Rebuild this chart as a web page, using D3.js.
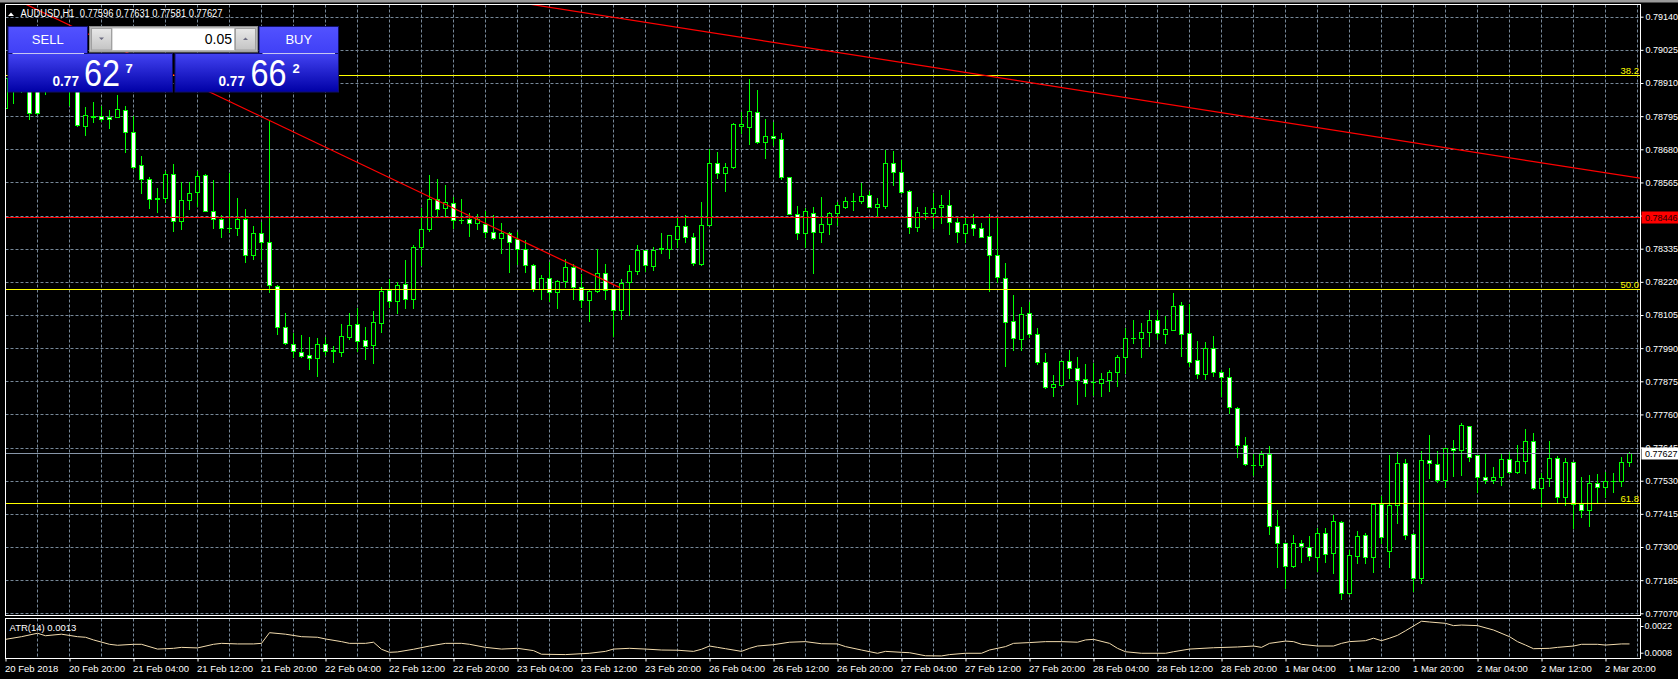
<!DOCTYPE html>
<html><head><meta charset="utf-8">
<script src="https://cdn.jsdelivr.net/npm/d3@7"></script>
<style>
html,body{margin:0;padding:0;background:#000;overflow:hidden}
svg{display:block}
text{font-family:"Liberation Sans",Arial,sans-serif}
</style>
</head><body><svg id="chart" width="1678" height="679"></svg>
<script>
// ---------------- DATA (AUDUSD H1, bar 0 = 20 Feb 2018 12:00) ----------------
const symbolTitle = "AUDUSD,H1";
const lastQuote = [0.77596, 0.77631, 0.77581, 0.77627];
const opens = [
0.78823,0.78927,0.78886,0.78955,0.78893,0.78906,0.78893,0.78941,0.78920,0.78906,
0.78762,0.78793,0.78795,0.78793,0.78793,0.78816,0.78740,0.78624,0.78576,0.78506,
0.78510,0.78593,0.78430,0.78503,0.78531,0.78590,0.78467,0.78437,0.78406,0.78406,
0.78437,0.78313,0.78388,0.78357,0.78207,0.78065,0.78003,0.77978,0.77965,0.77955,
0.78003,0.77979,0.77978,0.78030,0.78074,0.78018,0.78002,0.78078,0.78192,0.78155,
0.78211,0.78161,0.78342,0.78404,0.78506,0.78477,0.78495,0.78436,0.78437,0.78423,
0.78421,0.78392,0.78371,0.78388,0.78368,0.78333,0.78277,0.78196,0.78232,0.78184,
0.78224,0.78270,0.78201,0.78156,0.78187,0.78250,0.78194,0.78121,0.78219,0.78259,
0.78331,0.78274,0.78335,0.78333,0.78368,0.78413,0.78375,0.78281,0.78418,0.78633,
0.78599,0.78617,0.78760,0.78758,0.78808,0.78704,0.78725,0.78715,0.78583,0.78456,
0.78388,0.78460,0.78394,0.78420,0.78458,0.78481,0.78499,0.78499,0.78520,0.78481,
0.78484,0.78631,0.78600,0.78534,0.78409,0.78458,0.78458,0.78479,0.78486,0.78429,
0.78388,0.78420,0.78406,0.78378,0.78312,0.78232,0.78085,0.78021,0.78111,0.78038,
0.77943,0.77856,0.77863,0.77944,0.77922,0.77884,0.77871,0.77870,0.77880,0.77906,
0.77958,0.78025,0.78026,0.78045,0.78087,0.78038,0.78054,0.78139,0.78041,0.77948,
0.77899,0.77989,0.77906,0.77889,0.77781,0.77653,0.77585,0.77585,0.77622,0.77374,
0.77313,0.77234,0.77315,0.77301,0.77264,0.77347,0.77278,0.77388,0.77139,0.77270,
0.77340,0.77264,0.77448,0.77287,0.77445,0.77590,0.77346,0.77191,0.77601,0.77587,
0.77533,0.77642,0.77636,0.77719,0.77618,0.77542,0.77532,0.77544,0.77604,0.77561,
0.77597,0.77667,0.77504,0.77538,0.77608,0.77472,0.77594,0.77449,0.77428,0.77523,
0.77507,0.77528,0.77529,0.77596];
const highs = [
0.78955,0.78948,0.78976,0.78983,0.78920,0.78941,0.78955,0.78969,0.78948,0.78920,
0.78828,0.78845,0.78830,0.78816,0.78868,0.78830,0.78795,0.78657,0.78583,0.78545,
0.78605,0.78629,0.78565,0.78565,0.78605,0.78594,0.78573,0.78452,0.78599,0.78510,
0.78473,0.78415,0.78427,0.78782,0.78209,0.78111,0.78041,0.78036,0.78028,0.78025,
0.78030,0.77997,0.78074,0.78113,0.78128,0.78062,0.78119,0.78201,0.78229,0.78220,
0.78296,0.78348,0.78475,0.78591,0.78577,0.78556,0.78515,0.78506,0.78458,0.78455,
0.78467,0.78452,0.78424,0.78392,0.78392,0.78365,0.78282,0.78244,0.78289,0.78226,
0.78299,0.78281,0.78246,0.78192,0.78333,0.78282,0.78195,0.78229,0.78278,0.78347,
0.78332,0.78340,0.78388,0.78382,0.78446,0.78452,0.78388,0.78496,0.78680,0.78671,
0.78631,0.78770,0.78810,0.78924,0.78886,0.78784,0.78775,0.78735,0.78584,0.78483,
0.78475,0.78479,0.78514,0.78463,0.78498,0.78515,0.78527,0.78562,0.78535,0.78510,
0.78677,0.78674,0.78643,0.78539,0.78481,0.78479,0.78527,0.78521,0.78539,0.78440,
0.78440,0.78455,0.78423,0.78455,0.78443,0.78286,0.78174,0.78132,0.78149,0.78059,
0.77972,0.77897,0.77945,0.77983,0.77958,0.77935,0.77937,0.77903,0.77914,0.77966,
0.78059,0.78088,0.78076,0.78122,0.78122,0.78102,0.78180,0.78150,0.78143,0.78015,
0.78010,0.78032,0.77914,0.77920,0.77787,0.77682,0.77622,0.77634,0.77650,0.77428,
0.77314,0.77342,0.77324,0.77338,0.77365,0.77365,0.77411,0.77389,0.77290,0.77356,
0.77349,0.77449,0.77477,0.77619,0.77631,0.77604,0.77347,0.77633,0.77688,0.77633,
0.77643,0.77671,0.77730,0.77720,0.77619,0.77622,0.77576,0.77627,0.77628,0.77654,
0.77709,0.77695,0.77556,0.77668,0.77616,0.77608,0.77595,0.77544,0.77550,0.77553,
0.77559,0.77558,0.77613,0.77631];
const lows = [
0.78806,0.78842,0.78880,0.78784,0.78804,0.78872,0.78882,0.78893,0.78834,0.78762,
0.78730,0.78776,0.78778,0.78753,0.78791,0.78672,0.78614,0.78527,0.78477,0.78463,
0.78498,0.78397,0.78402,0.78474,0.78483,0.78466,0.78406,0.78375,0.78394,0.78382,
0.78288,0.78299,0.78298,0.78186,0.78039,0.78006,0.77960,0.77958,0.77918,0.77893,
0.77966,0.77943,0.77963,0.78022,0.77981,0.77952,0.77939,0.78047,0.78134,0.78111,
0.78128,0.78128,0.78278,0.78397,0.78448,0.78446,0.78406,0.78423,0.78380,0.78402,
0.78377,0.78369,0.78321,0.78255,0.78281,0.78255,0.78189,0.78161,0.78155,0.78129,
0.78203,0.78161,0.78134,0.78085,0.78184,0.78160,0.78031,0.78092,0.78104,0.78248,
0.78258,0.78261,0.78319,0.78303,0.78342,0.78357,0.78279,0.78280,0.78417,0.78581,
0.78535,0.78616,0.78737,0.78698,0.78703,0.78651,0.78695,0.78576,0.78454,0.78369,
0.78342,0.78250,0.78359,0.78387,0.78417,0.78475,0.78469,0.78495,0.78480,0.78446,
0.78477,0.78556,0.78527,0.78388,0.78397,0.78437,0.78406,0.78425,0.78385,0.78357,
0.78359,0.78382,0.78374,0.78189,0.78220,0.77928,0.77983,0.77983,0.78030,0.77935,
0.77853,0.77824,0.77862,0.77885,0.77797,0.77824,0.77827,0.77824,0.77842,0.77860,
0.77905,0.78009,0.77960,0.77997,0.78022,0.78009,0.78053,0.77964,0.77928,0.77885,
0.77883,0.77894,0.77824,0.77766,0.77613,0.77586,0.77550,0.77579,0.77345,0.77229,
0.77157,0.77229,0.77249,0.77255,0.77218,0.77249,0.77211,0.77118,0.77138,0.77243,
0.77245,0.77214,0.77315,0.77232,0.77382,0.77327,0.77148,0.77176,0.77540,0.77526,
0.77509,0.77547,0.77550,0.77598,0.77490,0.77523,0.77523,0.77515,0.77556,0.77556,
0.77556,0.77503,0.77443,0.77512,0.77457,0.77446,0.77365,0.77405,0.77374,0.77451,
0.77472,0.77492,0.77513,0.77581];
const closes = [
0.78927,0.78886,0.78962,0.78805,0.78805,0.78893,0.78941,0.78920,0.78906,0.78763,
0.78799,0.78794,0.78784,0.78784,0.78819,0.78739,0.78620,0.78576,0.78506,0.78511,
0.78593,0.78430,0.78503,0.78527,0.78586,0.78467,0.78437,0.78406,0.78407,0.78437,
0.78313,0.78388,0.78359,0.78208,0.78064,0.78007,0.77979,0.77964,0.77955,0.78003,
0.77981,0.77983,0.78031,0.78069,0.78016,0.77998,0.78081,0.78187,0.78155,0.78209,
0.78159,0.78340,0.78402,0.78506,0.78474,0.78498,0.78434,0.78435,0.78423,0.78437,
0.78394,0.78371,0.78390,0.78359,0.78335,0.78277,0.78196,0.78232,0.78184,0.78222,
0.78270,0.78201,0.78156,0.78188,0.78250,0.78191,0.78121,0.78217,0.78259,0.78329,
0.78277,0.78331,0.78336,0.78381,0.78413,0.78375,0.78284,0.78418,0.78631,0.78599,
0.78620,0.78767,0.78767,0.78812,0.78704,0.78725,0.78718,0.78585,0.78456,0.78388,
0.78465,0.78394,0.78420,0.78458,0.78486,0.78499,0.78500,0.78517,0.78481,0.78489,
0.78631,0.78600,0.78533,0.78409,0.78461,0.78459,0.78475,0.78486,0.78427,0.78392,
0.78420,0.78406,0.78375,0.78312,0.78236,0.78082,0.78024,0.78107,0.78038,0.77943,
0.77856,0.77864,0.77944,0.77922,0.77879,0.77870,0.77872,0.77882,0.77906,0.77958,
0.78024,0.78026,0.78045,0.78087,0.78041,0.78055,0.78135,0.78038,0.77943,0.77899,
0.77989,0.77906,0.77889,0.77785,0.77653,0.77587,0.77586,0.77623,0.77374,0.77313,
0.77234,0.77315,0.77303,0.77269,0.77347,0.77275,0.77390,0.77139,0.77272,0.77338,
0.77264,0.77448,0.77336,0.77445,0.77590,0.77343,0.77191,0.77601,0.77590,0.77531,
0.77642,0.77635,0.77722,0.77613,0.77544,0.77532,0.77544,0.77604,0.77559,0.77597,
0.77667,0.77504,0.77538,0.77608,0.77472,0.77594,0.77448,0.77428,0.77523,0.77507,
0.77528,0.77529,0.77596,0.77627];

const priceTicks = [0.79140,0.79025,0.78910,0.78795,0.78680,0.78565,0.78450,0.78335,0.78220,0.78105,
  0.77990,0.77875,0.77760,0.77645,0.77530,0.77415,0.77300,0.77185,0.77070];
const timeTickBars = [0,8,16,24,32,40,48,56,64,72,80,88,96,104,112,120,128,136,144,152,160,168,176,184,192,200];
const timeTickLabels = ["20 Feb 2018","20 Feb 20:00","21 Feb 04:00","21 Feb 12:00","21 Feb 20:00","22 Feb 04:00",
  "22 Feb 12:00","22 Feb 20:00","23 Feb 04:00","23 Feb 12:00","23 Feb 20:00","26 Feb 04:00","26 Feb 12:00",
  "26 Feb 20:00","27 Feb 04:00","27 Feb 12:00","27 Feb 20:00","28 Feb 04:00","28 Feb 12:00","28 Feb 20:00",
  "1 Mar 04:00","1 Mar 12:00","1 Mar 20:00","2 Mar 04:00","2 Mar 12:00","2 Mar 20:00"];

const fibNames = ["38.2","50.0","61.8"];
const fibPrices = [0.78937, 0.78195, 0.77452];
const levelPrice = 0.78446;
const bidPrice = 0.77627;
const trendA_bars = [64, 204], trendA_prices = [0.79190, 0.78581];
const trendB_bars = [3, 76.8], trendB_prices = [0.79177, 0.78200];

const atrName = "ATR(14) 0.0013";
const atrTicks = [0.0022, 0.0008];
const atrBars = [0,2,4,5,7,9,10,11,13,14,16,17,19,21,22,24,26,27,29,31,32,33,35,37,39,40,42,43,45,46,47,48,49,51,53,55,57,58,60,62,64,66,67,70,73,75,76,78,80,82,84,86,87,88,89,90,92,93,94,96,98,100,102,104,105,107,109,110,112,113,115,117,118,120,122,123,125,126,128,130,132,134,135,136,138,139,140,142,145,146,148,151,154,156,157,158,160,161,162,164,166,167,168,170,171,172,173,174,175,177,178,180,181,182,184,186,188,189,190,191,193,194,196,197,199,200,202,203];
const atrValues = [0.00150,0.00164,0.00182,0.00169,0.00177,0.00164,0.00161,0.00147,0.00124,0.00119,0.00124,0.00124,0.00099,0.00103,0.00108,0.00105,0.00124,0.00129,0.00126,0.00126,0.00129,0.00185,0.00177,0.00164,0.00161,0.00152,0.00138,0.00129,0.00129,0.00135,0.00098,0.00082,0.00084,0.00098,0.00115,0.00129,0.00129,0.00124,0.00108,0.00099,0.00103,0.00091,0.00072,0.00070,0.00077,0.00087,0.00099,0.00103,0.00099,0.00094,0.00093,0.00087,0.00098,0.00115,0.00108,0.00101,0.00087,0.00103,0.00115,0.00122,0.00135,0.00138,0.00127,0.00126,0.00112,0.00094,0.00077,0.00087,0.00082,0.00080,0.00064,0.00063,0.00070,0.00077,0.00077,0.00094,0.00112,0.00129,0.00133,0.00138,0.00138,0.00135,0.00147,0.00150,0.00129,0.00103,0.00085,0.00077,0.00077,0.00085,0.00099,0.00106,0.00110,0.00115,0.00108,0.00129,0.00141,0.00138,0.00124,0.00115,0.00115,0.00129,0.00138,0.00143,0.00156,0.00143,0.00156,0.00171,0.00195,0.00245,0.00241,0.00234,0.00222,0.00225,0.00222,0.00199,0.00164,0.00138,0.00120,0.00101,0.00103,0.00108,0.00115,0.00124,0.00124,0.00120,0.00126,0.00126];

const lotSize = "0.05";
const sellParts = ["0.77","62","7"];
const buyParts = ["0.77","66","2"];

// ---------------- LAYOUT ----------------
const svg = d3.select("#chart");
const L = 5.5, R = 1640.5, T = 4.5, B = 615.5, aT = 618.5, aB = 658.5;
const FONT = 9.5, AXFONT = 9;
const GRID = "#778899", GREEN = "#00ff00";

const x = d3.scaleLinear().domain([0, opens.length - 1]).range([5.5, 5.5 + 8 * (opens.length - 1)]);
const y = d3.scaleLinear().domain([0.79140, 0.77070]).range([16.7, 613.3]);
const ya = d3.scaleLinear().domain([0.0022, 0.0008]).range([626, 652.7]);
const cy = v => Math.round(y(v)) + 0.5;

svg.append("rect").attr("width", 1678).attr("height", 679).attr("fill", "#000");
svg.append("rect").attr("width", 1678).attr("height", 2.5).attr("fill", "#9a9a9a");

const defs = svg.append("defs");
defs.append("clipPath").attr("id", "mainclip").append("rect")
  .attr("x", L + 0.5).attr("y", T + 0.5).attr("width", R - L - 1).attr("height", B - T - 1);
defs.append("clipPath").attr("id", "atrclip").append("rect")
  .attr("x", L + 0.5).attr("y", aT + 0.5).attr("width", R - L - 1).attr("height", aB - aT - 1);
const grad = defs.append("linearGradient").attr("id", "pbox").attr("x1", 0).attr("y1", 0).attr("x2", 0).attr("y2", 1);
grad.append("stop").attr("offset", "0%").attr("stop-color", "#4343f2");
grad.append("stop").attr("offset", "100%").attr("stop-color", "#0000a6");
const grad2 = defs.append("linearGradient").attr("id", "btn").attr("x1", 0).attr("y1", 0).attr("x2", 0).attr("y2", 1);
grad2.append("stop").attr("offset", "0%").attr("stop-color", "#5252ff");
grad2.append("stop").attr("offset", "100%").attr("stop-color", "#4040f6");
const grad3 = defs.append("linearGradient").attr("id", "gbtn").attr("x1", 0).attr("y1", 0).attr("x2", 0).attr("y2", 1);
grad3.append("stop").attr("offset", "0%").attr("stop-color", "#e8e8e8");
grad3.append("stop").attr("offset", "100%").attr("stop-color", "#c4c4c4");

// ---------------- GRID ----------------
const gridG = svg.append("g").attr("stroke", GRID).attr("stroke-width", 1).attr("stroke-dasharray", "3,2");
const vBars = d3.range(0, opens.length + 1, 4);
gridG.selectAll("line.vg").data(vBars).join("line")
  .attr("x1", d => x(d)).attr("x2", d => x(d)).attr("y1", T).attr("y2", B);
gridG.selectAll("line.vga").data(vBars).join("line")
  .attr("x1", d => x(d)).attr("x2", d => x(d)).attr("y1", aT).attr("y2", aB);
gridG.selectAll("line.hg").data(priceTicks).join("line")
  .attr("x1", L).attr("x2", R).attr("y1", d => cy(d)).attr("y2", d => cy(d));

// ---------------- CANDLES ----------------
const bars = d3.range(opens.length).map(i => ({ i, o: opens[i], h: highs[i], l: lows[i], c: closes[i] }));
const cg = svg.append("g").attr("clip-path", "url(#mainclip)");
cg.selectAll("line.wick").data(bars).join("line")
  .attr("x1", d => x(d.i)).attr("x2", d => x(d.i))
  .attr("y1", d => Math.round(y(d.h))).attr("y2", d => Math.round(y(d.l)) + 1)
  .attr("stroke", GREEN).attr("stroke-width", 1);
const isBody = d => Math.abs(Math.round(y(d.o)) - Math.round(y(d.c))) >= 1;
cg.selectAll("rect.body").data(bars.filter(isBody)).join("rect")
  .attr("x", d => x(d.i) - 2).attr("width", 4)
  .attr("y", d => Math.min(Math.round(y(d.o)), Math.round(y(d.c))) + 0.5)
  .attr("height", d => Math.abs(Math.round(y(d.o)) - Math.round(y(d.c))))
  .attr("fill", d => d.c > d.o ? "#000" : "#fff")
  .attr("stroke", GREEN).attr("stroke-width", 1);
cg.selectAll("line.doji").data(bars.filter(d => !isBody(d))).join("line")
  .attr("x1", d => x(d.i) - 2.5).attr("x2", d => x(d.i) + 2.5)
  .attr("y1", d => cy(d.o)).attr("y2", d => cy(d.o))
  .attr("stroke", GREEN).attr("stroke-width", 1);

// ---------------- OBJECTS ----------------
const og = svg.append("g").attr("clip-path", "url(#mainclip)");
og.selectAll("line.fib").data(fibPrices).join("line")
  .attr("x1", L).attr("x2", R).attr("y1", d => cy(d)).attr("y2", d => cy(d))
  .attr("stroke", "#ffff00").attr("stroke-width", 1);
og.append("line").attr("x1", L).attr("x2", R).attr("y1", cy(levelPrice)).attr("y2", cy(levelPrice))
  .attr("stroke", "#ff0000").attr("stroke-width", 1);
og.append("line").attr("x1", L).attr("x2", R).attr("y1", cy(bidPrice)).attr("y2", cy(bidPrice))
  .attr("stroke", "#8796a8").attr("stroke-width", 1);
function ray(bs, ps, extendLeft, extendRight) {
  const slope = (ps[1] - ps[0]) / (bs[1] - bs[0]);
  const b0 = extendLeft ? bs[0] - 60 : bs[0];
  const b1 = extendRight ? bs[1] + 10 : bs[1];
  return [[x(b0), y(ps[0] + slope * (b0 - bs[0]))], [x(b1), y(ps[0] + slope * (b1 - bs[0]))]];
}
const lineGen = d3.line();
og.append("path").attr("d", lineGen(ray(trendA_bars, trendA_prices, true, true)))
  .attr("stroke", "#ff0000").attr("stroke-width", 1.2).attr("fill", "none");
og.append("path").attr("d", lineGen(ray(trendB_bars, trendB_prices, true, false)))
  .attr("stroke", "#ff0000").attr("stroke-width", 1.2).attr("fill", "none");

// fib labels
svg.selectAll("text.fibl").data(fibPrices).join("text")
  .attr("x", R - 1.5).attr("y", d => cy(d) - 2).attr("text-anchor", "end")
  .attr("fill", "#ffff00").attr("font-size", FONT).text((d, i) => fibNames[i]);

// ---------------- ATR ----------------
const ag = svg.append("g").attr("clip-path", "url(#atrclip)");
ag.append("path").datum(atrBars.map((b, i) => [b, atrValues[i]]))
  .attr("d", d3.line().x(d => x(d[0])).y(d => ya(d[1])))
  .attr("fill", "none").attr("stroke", "#f3dcae").attr("stroke-width", 1);
svg.append("text").attr("x", 9.5).attr("y", 630.5).attr("fill", "#fff").attr("font-size", FONT).text(atrName);

// ---------------- FRAMES ----------------
svg.append("rect").attr("x", L).attr("y", T).attr("width", R - L).attr("height", B - T)
  .attr("fill", "none").attr("stroke", "#fff").attr("stroke-width", 1);
svg.append("rect").attr("x", L).attr("y", aT).attr("width", R - L).attr("height", aB - aT)
  .attr("fill", "none").attr("stroke", "#fff").attr("stroke-width", 1);

// ---------------- AXES ----------------
const pAxis = svg.append("g").attr("transform", `translate(${R},0)`)
  .call(d3.axisRight(y).tickValues(priceTicks).tickFormat(d => d.toFixed(5)).tickSize(3).tickPadding(2));
pAxis.select(".domain").remove();
pAxis.selectAll("line").attr("stroke", "#fff");
pAxis.selectAll("text").attr("fill", "#fff").attr("font-size", AXFONT).attr("font-family", null);

const aAxis = svg.append("g").attr("transform", `translate(${R},0)`)
  .call(d3.axisRight(ya).tickValues(atrTicks).tickFormat(d3.format(".4f")).tickSize(3).tickPadding(1));
aAxis.select(".domain").remove();
aAxis.selectAll("line").attr("stroke", "#fff");
aAxis.selectAll("text").attr("fill", "#fff").attr("font-size", AXFONT).attr("font-family", null);

const tAxis = svg.append("g").attr("transform", `translate(0,${aB})`)
  .call(d3.axisBottom(x).tickValues(timeTickBars).tickFormat((d, i) => timeTickLabels[i]).tickSize(3).tickPadding(4));
tAxis.select(".domain").remove();
tAxis.selectAll("line").attr("stroke", "#fff");
tAxis.selectAll("text").attr("fill", "#fff").attr("font-size", FONT).attr("font-family", null)
  .attr("text-anchor", "start").attr("x", -1);

// price labels on axis
function axisLabel(v, bg, fg) {
  const yy = cy(v);
  svg.append("rect").attr("x", R + 1).attr("y", yy - 6).attr("width", 1678 - R - 1).attr("height", 12).attr("fill", bg);
  svg.append("text").attr("x", R + 4.5).attr("y", yy + 3.5).attr("fill", fg).attr("font-size", AXFONT).text(v.toFixed(5));
}
axisLabel(levelPrice, "#ff0000", "#1a0000");
axisLabel(bidPrice, "#ffffff", "#000000");

// ---------------- TITLE ----------------
svg.append("path").attr("d", "M8,16 L14,16 L11,12.5 Z").attr("fill", "#fff");
svg.append("text").attr("x", 20.5).attr("y", 17).attr("fill", "#fff").attr("font-size", 10)
  .attr("textLength", 202).attr("lengthAdjust", "spacingAndGlyphs")
  .style("white-space", "pre").text(symbolTitle + "  " + lastQuote.map(v => v.toFixed(5)).join(" "));

// ---------------- TRADE PANEL ----------------
const tp = svg.append("g");
function priceBox(x0, w, parts, px) {
  tp.append("rect").attr("x", x0).attr("y", 53.5).attr("width", w).attr("height", 38.5)
    .attr("fill", "url(#pbox)").attr("stroke", "#10106a").attr("stroke-width", 1);
  tp.append("text").attr("x", px[0]).attr("y", 85.5).attr("fill", "#fff").attr("font-size", 15)
    .attr("font-weight", "bold").attr("textLength", 26.5).attr("lengthAdjust", "spacingAndGlyphs").text(parts[0]);
  tp.append("text").attr("x", px[1]).attr("y", 85.5).attr("fill", "#fff").attr("font-size", 37)
    .attr("textLength", 36).attr("lengthAdjust", "spacingAndGlyphs").text(parts[1]);
  tp.append("text").attr("x", px[2]).attr("y", 73).attr("fill", "#fff").attr("font-size", 13)
    .attr("font-weight", "bold").text(parts[2]);
}
function topButton(x0, w, label) {
  tp.append("rect").attr("x", x0).attr("y", 26.5).attr("width", w).attr("height", 27)
    .attr("fill", "url(#btn)").attr("stroke", "#10106a").attr("stroke-width", 1);
  tp.append("text").attr("x", x0 + w / 2).attr("y", 43.5).attr("text-anchor", "middle")
    .attr("fill", "#fff").attr("font-size", 13).text(label);
}
priceBox(8, 164.5, sellParts, [52.5, 84, 125.5]);
priceBox(175, 163.5, buyParts, [218.5, 250.5, 292.5]);
topButton(8, 79.5, "SELL");
topButton(259, 79.5, "BUY");
tp.append("line").attr("x1", 12.5).attr("x2", 84).attr("y1", 53.5).attr("y2", 53.5).attr("stroke", "#c6c6f0");
tp.append("line").attr("x1", 262.5).attr("x2", 335).attr("y1", 53.5).attr("y2", 53.5).attr("stroke", "#c6c6f0");
// lot box
tp.append("rect").attr("x", 89.5).attr("y", 26.5).attr("width", 168).attr("height", 25.5)
  .attr("fill", "#b8b8b8").attr("stroke", "#8a8a8a");
tp.append("rect").attr("x", 112.5).attr("y", 28.5).attr("width", 121.5).attr("height", 21.5).attr("fill", "#fff");
tp.append("rect").attr("x", 91.5).attr("y", 28.5).attr("width", 20).attr("height", 21.5).attr("fill", "url(#gbtn)").attr("stroke", "#a0a0a0");
tp.append("rect").attr("x", 235.5).attr("y", 28.5).attr("width", 20).attr("height", 21.5).attr("fill", "url(#gbtn)").attr("stroke", "#a0a0a0");
tp.append("path").attr("d", "M99,37.5 L104,37.5 L101.5,40 Z").attr("fill", "#6a6a80");
tp.append("path").attr("d", "M243,40 L248,40 L245.5,37.5 Z").attr("fill", "#6a6a80");
tp.append("text").attr("x", 232).attr("y", 43.5).attr("text-anchor", "end").attr("fill", "#000")
  .attr("font-size", 14).text(lotSize);
</script>
</body></html>
